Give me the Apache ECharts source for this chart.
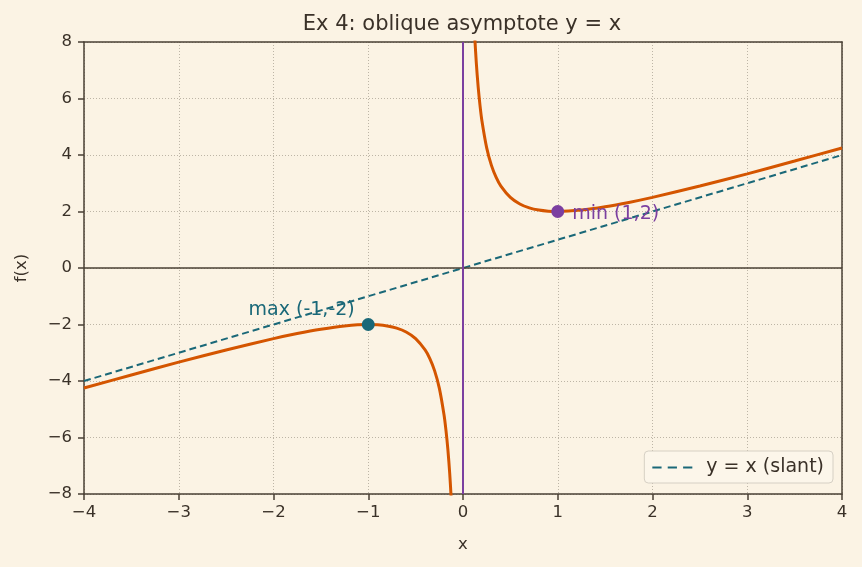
<!DOCTYPE html>
<html><head><meta charset="utf-8">
<script src="https://cdn.jsdelivr.net/npm/echarts@6/dist/echarts.min.js"></script>
<style>html,body{margin:0;padding:0;background:#fbf3e4;}#c{width:862px;height:567px;}</style>
</head><body><div id="c"></div>
<script>
// Left branch of f(x)
const leftX = [-4, -3.5, -3, -2.5, -2, -1.75, -1.5, -1.25, -1, -0.9, -0.8, -0.7, -0.6, -0.5, -0.4, -0.35, -0.3, -0.25, -0.2, -0.18, -0.16, -0.14, -0.125];
const leftY = [-4.25, -3.786, -3.333, -2.9, -2.5, -2.321, -2.167, -2.05, -2, -2.011, -2.05, -2.129, -2.267, -2.5, -2.9, -3.207, -3.633, -4.25, -5.2, -5.736, -6.41, -7.283, -8.125];
// Right branch of f(x)
const rightX = [0.125, 0.14, 0.16, 0.18, 0.2, 0.25, 0.3, 0.35, 0.4, 0.5, 0.6, 0.7, 0.8, 0.9, 1, 1.25, 1.5, 1.75, 2, 2.5, 3, 3.5, 4];
const rightY = [8.125, 7.283, 6.41, 5.736, 5.2, 4.25, 3.633, 3.207, 2.9, 2.5, 2.267, 2.129, 2.05, 2.011, 2, 2.05, 2.167, 2.321, 2.5, 2.9, 3.333, 3.786, 4.25];
// Slant asymptote y = x
const slantX = [-4, 4];
const slantY = [-4, 4];
// Extrema
const maxPt = [-1, -2];
const minPt = [1, 2];
const xTicks = [-4, -3, -2, -1, 0, 1, 2, 3, 4];
const yTicks = [-8, -6, -4, -2, 0, 2, 4, 6, 8];

const zip = (a, b) => a.map((v, i) => [v, b[i]]);
const fmt = v => String(v).replace('-', '\u2212');
const ink = '#4a4035';
const txt = '#3a3128';
const font = 'DejaVu Sans';
const fs = 16.5;
const fsBig = 19;
const chart = echarts.init(document.getElementById('c'));
const gridLine = { show: true, lineStyle: { color: '#bdb5a6', type: [1, 2], width: 1 } };
chart.setOption({
  backgroundColor: '#fbf3e4',
  animation: false,
  textStyle: { fontFamily: font },
  title: { text: 'Ex 4: oblique asymptote y = x', left: 457, top: 9, textAlign: 'center',
    textStyle: { fontFamily: font, fontSize: 21, fontWeight: 'normal', color: txt } },
  grid: { left: 84, right: 20, top: 42, bottom: 73 },
  legend: { right: 29, bottom: 84, orient: 'vertical', backgroundColor: '#fcf6ea', borderColor: '#d6d0c4', borderWidth: 1, borderRadius: 4,
    padding: [7, 9, 6, 8], itemWidth: 40, itemHeight: 12, itemGap: 8,
    textStyle: { fontFamily: font, fontSize: fsBig, color: txt, padding: [0, 0, 0, 9] },
    data: [{ name: 'y = x (slant)', icon: 'path://M0,5 L9,5 L9,7 L0,7 Z M15,5 L24,5 L24,7 L15,7 Z M30,5 L39,5 L39,7 L30,7 Z' }] },
  xAxis: [
    { type: 'value', min: -4, max: 4, interval: 1, name: 'x', nameLocation: 'middle', nameGap: 42,
      nameTextStyle: { fontFamily: font, fontSize: fs, color: txt },
      axisLine: { onZero: false, lineStyle: { color: ink, width: 1.5 } },
      axisTick: { show: true, length: 6, lineStyle: { color: ink, width: 1.5 } },
      axisLabel: { formatter: fmt, fontFamily: font, fontSize: fs, color: txt, margin: 10 },
      splitLine: gridLine },
    { type: 'value', position: 'top', min: -4, max: 4, interval: 1,
      axisLine: { show: true, onZero: false, lineStyle: { color: ink, width: 1.5 } },
      axisTick: { show: false }, axisLabel: { show: false }, splitLine: { show: false } }
  ],
  yAxis: [
    { type: 'value', min: -8, max: 8, interval: 2, name: 'f(x)', nameLocation: 'middle', nameGap: 54,
      nameTextStyle: { fontFamily: font, fontSize: fs, color: txt },
      axisLine: { show: true, onZero: false, lineStyle: { color: ink, width: 1.5 } },
      axisTick: { show: true, length: 6, lineStyle: { color: ink, width: 1.5 } },
      axisLabel: { formatter: fmt, fontFamily: font, fontSize: fs, color: txt, margin: 12 },
      splitLine: gridLine },
    { type: 'value', position: 'right', min: -8, max: 8, interval: 2,
      axisLine: { show: true, onZero: false, lineStyle: { color: ink, width: 1.5 } },
      axisTick: { show: false }, axisLabel: { show: false }, splitLine: { show: false } }
  ],
  series: [
    { name: 'axes', type: 'line', data: [], silent: true,
      markLine: { symbol: 'none', silent: true, label: { show: false },
        data: [
          { yAxis: 0, lineStyle: { color: ink, width: 1.5, type: 'solid' } },
          { xAxis: 0, lineStyle: { color: '#7b3fa0', width: 2, type: 'solid' } }
        ] } },
    { name: 'y = x (slant)', type: 'line', data: zip(slantX, slantY), showSymbol: false, symbol: 'none',
      lineStyle: { color: '#1a6878', width: 2, type: [7, 4] }, itemStyle: { color: '#1a6878' }, z: 3 },
    { name: 'fL', type: 'line', data: zip(leftX, leftY), showSymbol: false, symbol: 'none', smooth: 0.3, clip: true,
      lineStyle: { color: '#d45500', width: 3 }, z: 4 },
    { name: 'fR', type: 'line', data: zip(rightX, rightY), showSymbol: false, symbol: 'none', smooth: 0.3, clip: true,
      lineStyle: { color: '#d45500', width: 3 }, z: 4 },
    { name: 'max', type: 'scatter', data: [maxPt], symbolSize: 13, itemStyle: { color: '#1a6878', opacity: 1 }, z: 5,
      label: { show: true, formatter: 'max (-1,-2)', position: 'left', offset: [-2, -14], fontFamily: font, fontSize: fsBig, color: '#1a6878' } },
    { name: 'min', type: 'scatter', data: [minPt], symbolSize: 13, itemStyle: { color: '#7b3fa0', opacity: 1 }, z: 5,
      label: { show: true, formatter: 'min (1,2)', position: 'right', offset: [3, 3], fontFamily: font, fontSize: fsBig, color: '#7b3fa0' } }
  ]
});
</script></body></html>
